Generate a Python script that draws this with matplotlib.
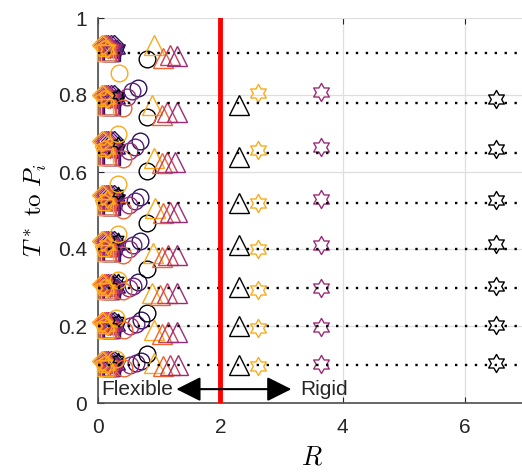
import matplotlib
matplotlib.use("Agg")
import numpy as np
import matplotlib.pyplot as plt
from matplotlib.path import Path

plt.rcParams["font.family"] = ["Liberation Sans", "DejaVu Sans"]
plt.rcParams["mathtext.fontset"] = "cm"

# T* levels (dotted reference lines)
levels = [0.10, 0.20, 0.30, 0.40, 0.52, 0.65, 0.78, 0.91]

c_dark = "#2a1158"
c_purple = "#5b1f80"
c_plum = "#9a2b76"
c_rose = "#c93f61"
c_red = "#ee6430"
c_orange = "#fbaa1b"
# drawn dark first so the warm colours end up on top
cluster_colors = [c_dark, c_purple, c_plum, c_rose, c_red, c_orange]

# flexible cluster: R per colour for each marker family, T* per level
square_R = [0.23, 0.21, 0.19, 0.17, 0.15, 0.12]
square_T = [0.09, 0.19, 0.29, 0.39, 0.51, 0.64, 0.77, 0.91]
diamond_R = [0.26, 0.21, 0.17, 0.13, 0.10, 0.06]
diamond_T = [0.11, 0.21, 0.31, 0.42, 0.54, 0.68, 0.80, 0.93]
pent_R = [0.27, 0.23, 0.19, 0.16, 0.13, 0.10]
pent_T = [0.10, 0.20, 0.30, 0.40, 0.52, 0.66, 0.79, 0.92]
hexa_R = [0.31, 0.28, 0.24, 0.20, 0.17, 0.14]
hexa_T = [0.10, 0.20, 0.30, 0.41, 0.53, 0.66, 0.79, 0.92]
black_hexa_R = 0.33
black_hexa_T = [0.115, 0.215, 0.32, 0.425, 0.545, 0.675, 0.80]

# circles
circ_orange_R = [0.30, 0.30, 0.33, 0.33, 0.33, 0.33, 0.34]
circ_orange_T = [0.115, 0.22, 0.32, 0.44, 0.57, 0.70, 0.856]
circ_red_R = [0.42, 0.42, 0.41, 0.41, 0.41, 0.41, 0.41]
circ_red_T = [0.09, 0.19, 0.29, 0.385, 0.50, 0.635, 0.765]
circ_plum_R = [0.52, 0.52, 0.50, 0.50, 0.50, 0.50, 0.47]
circ_plum_T = [0.10, 0.20, 0.30, 0.40, 0.515, 0.655, 0.795]
circ_purple_R = [0.62, 0.62, 0.58, 0.58, 0.60, 0.60, 0.55]
circ_purple_T = [0.105, 0.205, 0.305, 0.41, 0.525, 0.665, 0.81]
circ_dark_R = [0.71, 0.71, 0.66, 0.68, 0.69, 0.69, 0.66]
circ_dark_T = [0.11, 0.215, 0.315, 0.42, 0.535, 0.68, 0.817]
circ_black_R = [0.80, 0.80, 0.80, 0.80, 0.80, 0.80, 0.80]
circ_black_T = [0.127, 0.234, 0.348, 0.467, 0.603, 0.744, 0.893]

# triangles
tri_orange_R = [0.92, 0.92, 0.88, 0.90, 0.93, 0.92, 0.88, 0.92]
tri_orange_T = [0.105, 0.19, 0.285, 0.39, 0.506, 0.636, 0.774, 0.93]
tri_red_R = [1.06, 1.05, 1.01, 1.04, 1.07, 1.04, 1.04, 1.07]
tri_red_T = [0.095, 0.18, 0.28, 0.38, 0.493, 0.623, 0.748, 0.895]
tri_rose_R = [1.17, 1.15, 1.12, 1.15, 1.18, 1.12, 1.12, 1.18]
tri_rose_T = [0.10, 0.185, 0.285, 0.385, 0.497, 0.627, 0.757, 0.904]
tri_plum_R = [1.31, 1.29, 1.29, 1.29, 1.29, 1.25, 1.29, 1.29]
tri_plum_T = [0.10, 0.185, 0.285, 0.385, 0.497, 0.627, 0.757, 0.90]

# rigid side
tri_black_R = 2.30
tri_black_T = [0.10, 0.20, 0.302, 0.41, 0.52, 0.64, 0.775]
star_orange_R = 2.61
star_orange_T = [0.097, 0.195, 0.293, 0.40, 0.52, 0.657, 0.804]
star_plum_R = 3.65
star_plum_T = [0.101, 0.198, 0.30, 0.41, 0.53, 0.665, 0.807]
star_black_R = 6.51
star_black_T = [0.104, 0.203, 0.305, 0.413, 0.527, 0.66, 0.79]

R_crit = 2.0
xticks = [0, 2, 4, 6]
yticks = [0, 0.2, 0.4, 0.6, 0.8, 1]
ytick_labels = ["0", "0.2", "0.4", "0.6", "0.8", "1"]


def hexagram_path():
    ang = np.pi / 2 + np.arange(12) * np.pi / 6
    rad = np.where(np.arange(12) % 2 == 0, 1.0, 1 / np.sqrt(3))
    verts = np.column_stack([rad * np.cos(ang), rad * np.sin(ang)])
    verts = np.vstack([verts, verts[:1]])
    codes = [Path.MOVETO] + [Path.LINETO] * 11 + [Path.CLOSEPOLY]
    return Path(verts, codes)


HEXAGRAM = hexagram_path()

fig = plt.figure(figsize=(5.22, 4.73), dpi=100)
ax = fig.add_axes([98 / 522, 70 / 473, 7 * 61.2 / 522, 385 / 473])


def hollow(x, y, marker, color, ms, mew=1.0, z=4):
    ax.plot(x, y, linestyle="none", marker=marker, ms=ms, mfc="none",
            mec=color, mew=mew, clip_on=False, zorder=z)


# cluster markers
for i, c in enumerate(cluster_colors):
    hollow([square_R[i]] * len(square_T), square_T, "s", c, 11)
    hollow([diamond_R[i]] * len(diamond_T), diamond_T, "D", c, 10)
    hollow([pent_R[i]] * len(pent_T), pent_T, "p", c, 13)
    hollow([hexa_R[i]] * len(hexa_T), hexa_T, HEXAGRAM, c, 13)
hollow([black_hexa_R] * len(black_hexa_T), black_hexa_T, HEXAGRAM, "k", 9)

hollow(circ_dark_R, circ_dark_T, "o", c_dark, 12)
hollow(circ_purple_R, circ_purple_T, "o", c_purple, 12)
hollow(circ_plum_R, circ_plum_T, "o", c_plum, 12)
hollow(circ_red_R, circ_red_T, "o", c_red, 12)
hollow(circ_orange_R, circ_orange_T, "o", c_orange, 12)
hollow(circ_black_R, circ_black_T, "o", "k", 12)

hollow(tri_orange_R, tri_orange_T, "^", c_orange, 14)
hollow(tri_red_R, tri_red_T, "^", c_red, 14)
hollow(tri_rose_R, tri_rose_T, "^", c_rose, 14)
hollow(tri_plum_R, tri_plum_T, "^", c_plum, 14)

hollow([tri_black_R] * len(tri_black_T), tri_black_T, "^", "k", 14)
hollow([star_orange_R] * len(star_orange_T), star_orange_T, HEXAGRAM, c_orange, 13)
hollow([star_plum_R] * len(star_plum_T), star_plum_T, HEXAGRAM, c_plum, 13)
hollow([star_black_R] * len(star_black_T), star_black_T, HEXAGRAM, "k", 13)

# dotted level lines
for lv in levels:
    ax.axhline(lv, color="k", lw=1.7, linestyle=(0, (1, 3.2)), zorder=5)

ax.axvline(R_crit, color="#ff0000", lw=3.5, zorder=6)

ax.annotate("", xy=(1.28, 0.036), xytext=(3.16, 0.036),
            arrowprops=dict(arrowstyle="<|-|>,head_length=1.0,head_width=0.5",
                            mutation_scale=15, lw=1.5, color="k",
                            shrinkA=0, shrinkB=0), zorder=7)
ax.text(1.22, 0.036, "Flexible", ha="right", va="center", fontsize=15,
        color="#262626", zorder=7)
ax.text(3.3, 0.036, "Rigid", ha="left", va="center", fontsize=15,
        color="#262626", zorder=7)

ax.set_xlim(0, 7)
ax.set_ylim(0, 1)
ax.set_xticks(xticks)
ax.set_yticks(yticks)
ax.set_yticklabels(ytick_labels)
ax.grid(True, color="#dedede", lw=0.9)
ax.set_axisbelow(True)
for side in ["top", "right"]:
    ax.spines[side].set_visible(False)
for side in ["left", "bottom"]:
    ax.spines[side].set_color("#4d4d4d")
    ax.spines[side].set_linewidth(1.2)
ax.tick_params(direction="in", length=4, colors="#262626", labelsize=15,
               top=True)
ax.tick_params(axis="x", pad=11)
ax.tick_params(axis="y", pad=8)

ax.set_xlabel(r"$R$", fontsize=19, labelpad=6)
ax.set_ylabel(r"$T^*\ \mathrm{to}\ P_i$", fontsize=18, labelpad=6)

fig.savefig("out.png", dpi=100)
